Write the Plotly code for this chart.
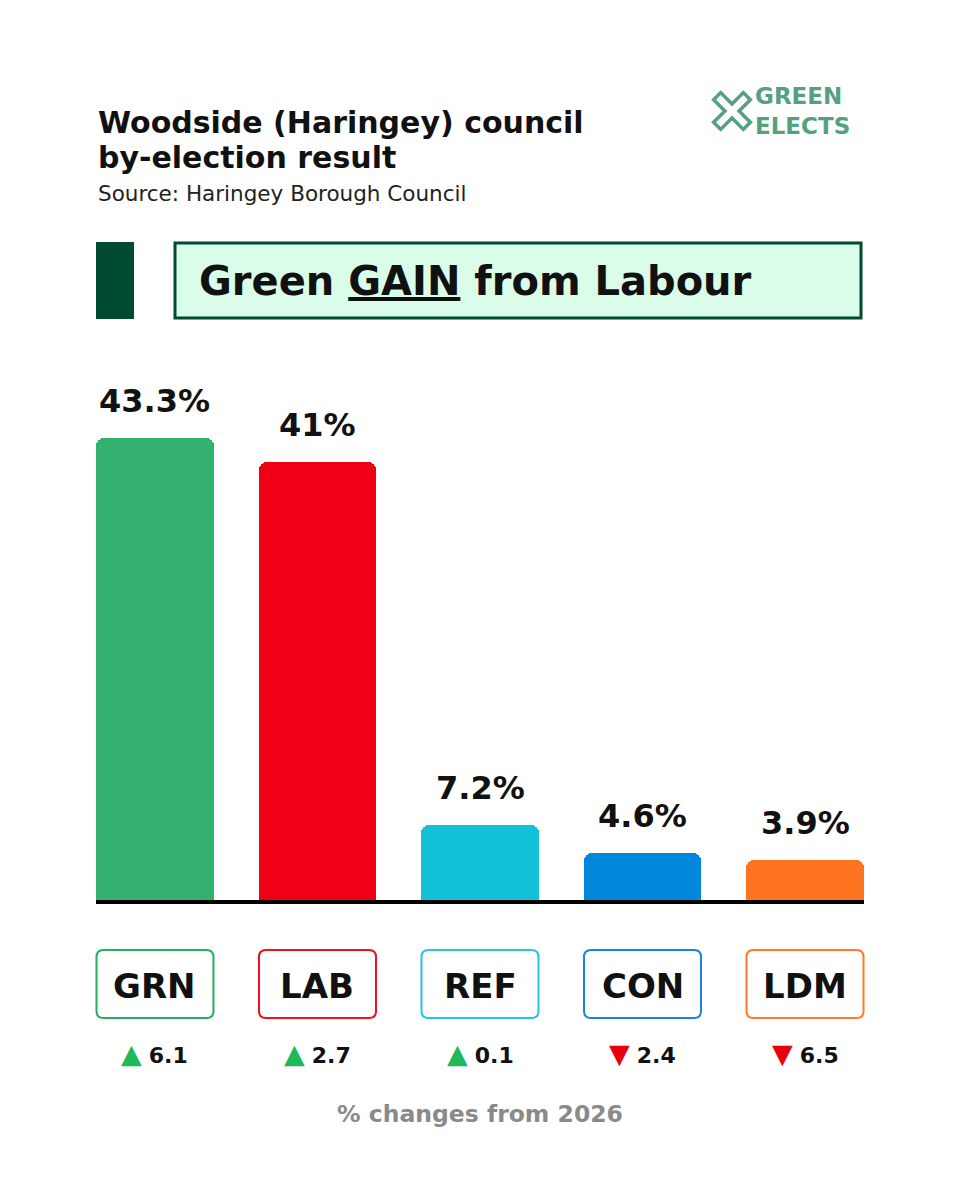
import numpy as np
import plotly.graph_objects as go

# ---- data ----
parties = ["GRN", "LAB", "REF", "CON", "LDM"]
shares = [43.3, 41, 7.2, 4.6, 3.9]
changes = [6.1, 2.7, 0.1, -2.4, -6.5]
bar_colors = ["#34b06f", "#f00014", "#12c0d8", "#0087dc", "#ff7420"]
box_colors = ["#22b05f", "#f0101e", "#2ac3da", "#1a86db", "#ff7a2a"]
title_lines = ["Woodside (Haringey) council", "by-election result"]
subtitle = "Source: Haringey Borough Council"
banner = "Green <u>GAIN</u> from Labour"
footer = "% changes from 2026"

W, H = 960, 1200
FONT = "DejaVu Sans"
PLOT_L, PLOT_R, PLOT_T, PLOT_B = 96, 864, 360, 902
PX_PER_UNIT = 10.72
ymax = (PLOT_B - PLOT_T) / PX_PER_UNIT


def px(x):
    return x / W


def py(y):
    return 1 - y / H


def rrect(x0, y0, x1, y1, r):
    X0, X1 = px(x0), px(x1)
    Y0, Y1 = py(y0), py(y1)
    rx, ry = r / W, r / H
    return (f"M{X0+rx},{Y0} L{X1-rx},{Y0} Q{X1},{Y0} {X1},{Y0-ry} "
            f"L{X1},{Y1+ry} Q{X1},{Y1} {X1-rx},{Y1} L{X0+rx},{Y1} "
            f"Q{X0},{Y1} {X0},{Y1+ry} L{X0},{Y0-ry} Q{X0},{Y0} {X0+rx},{Y0} Z")


def note(x, y, text, size, color="#111", xanchor="center", yanchor="middle"):
    return dict(x=px(x), y=py(y), xref="paper", yref="paper", text=text, showarrow=False,
                xanchor=xanchor, yanchor=yanchor, font=dict(family=FONT, size=size, color=color))


xs = list(range(len(parties)))
fig = go.Figure()
fig.add_trace(go.Bar(
    x=xs, y=shares, width=0.726, marker=dict(color=bar_colors, line=dict(width=0), cornerradius=8),
    hoverinfo="skip", showlegend=False,
))

shapes = []
annotations = []

# baseline
shapes.append(dict(type="line", xref="paper", yref="paper", x0=px(96), x1=px(864), y0=py(902), y1=py(902),
                   line=dict(color="black", width=4)))

# value labels
for i, v in enumerate(shares):
    annotations.append(dict(x=xs[i], y=v, xref="x", yref="y", text=f"<b>{v:g}%</b>", showarrow=False,
                            xanchor="center", yanchor="bottom", yshift=16,
                            font=dict(family=FONT, size=32, color="#111")))

# category boxes and changes
slot = (PLOT_R - PLOT_L) / (len(parties) - 1 + 0.726)
for i, p in enumerate(parties):
    cx = PLOT_L + slot * (0.363 + i)
    shapes.append(dict(type="path", xref="paper", yref="paper", path=rrect(cx - 58.5, 950, cx + 58.5, 1018, 7),
                       line=dict(color=box_colors[i], width=2), fillcolor="white"))
    annotations.append(note(cx, 986, f"<b>{p}</b>", 34))
    c = changes[i]
    tri = ('<span style="color:#1db95a;font-size:27px">▲</span>' if c >= 0
           else '<span style="color:#e8000b;font-size:27px">▼</span>')
    annotations.append(note(cx, 1053, f"{tri} <b>{abs(c):g}</b>", 22))

# title block
annotations.append(note(96, 122, f"<b>{title_lines[0]}</b>", 30, xanchor="left"))
annotations.append(note(96, 157, f"<b>{title_lines[1]}</b>", 30, xanchor="left"))
annotations.append(note(96, 194, subtitle, 21.5, color="#222", xanchor="left"))

# banner
shapes.append(dict(type="rect", xref="paper", yref="paper", x0=px(96), x1=px(134), y0=py(242), y1=py(319),
                   fillcolor="#004a32", line=dict(width=0)))
shapes.append(dict(type="rect", xref="paper", yref="paper", x0=px(175), x1=px(861), y0=py(243), y1=py(318),
                   fillcolor="#d9fde9", line=dict(color="#004a32", width=3)))
annotations.append(note(197, 281, f"<b>{banner}</b>", 40, xanchor="left"))

# logo
logo_c = "#55a07f"
cxl, cyl = 732, 111
L, w = 21, 5
pts = [(w, L), (w, w), (L, w), (L, -w), (w, -w), (w, -L), (-w, -L), (-w, -w), (-L, -w), (-L, w), (-w, w), (-w, L)]
ang = np.pi / 4
rot = [(cxl + a * np.cos(ang) - b * np.sin(ang), cyl + a * np.sin(ang) + b * np.cos(ang)) for a, b in pts]
path = "M" + " L".join(f"{px(a)},{py(b)}" for a, b in rot) + " Z"
shapes.append(dict(type="path", xref="paper", yref="paper", path=path, line=dict(color=logo_c, width=3.5),
                   fillcolor="white"))
logo_note = note(753, 111, "<b>GREEN</b><br><b>ELECTS</b>", 23, color=logo_c, xanchor="left")
logo_note["align"] = "left"
annotations.append(logo_note)

# footer
annotations.append(note(480, 1114, f"<b>{footer}</b>", 23.5, color="#8a8a8a"))

fig.update_layout(
    width=W, height=H, margin=dict(l=0, r=0, t=0, b=0, autoexpand=False),
    paper_bgcolor="white", plot_bgcolor="white",
    xaxis=dict(domain=[px(PLOT_L), px(PLOT_R)], range=[-0.363, len(parties) - 1 + 0.363], visible=False, fixedrange=True),
    yaxis=dict(domain=[py(PLOT_B), py(PLOT_T)], range=[0, ymax], visible=False, fixedrange=True),
    shapes=shapes, annotations=annotations, bargap=0,
)
fig.write_html("out.html")
